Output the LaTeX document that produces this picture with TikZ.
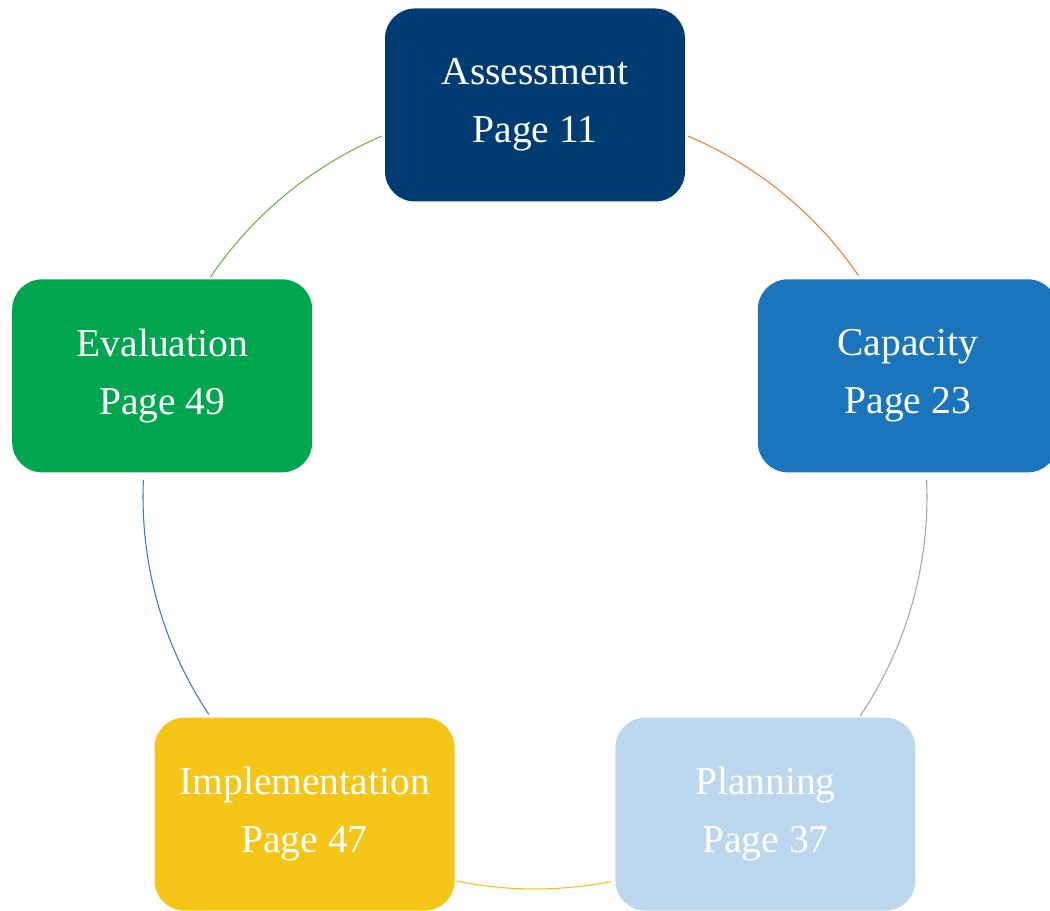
\documentclass[tikz,border=0pt]{standalone}
\usepackage{fontspec}
\setmainfont{Liberation Serif}
\usepackage{tikz}
\usetikzlibrary{calc}

\definecolor{navy}{HTML}{003C71}
\definecolor{midblue}{HTML}{1B75BC}
\definecolor{paleblue}{HTML}{BDD7EE}
\definecolor{gold}{HTML}{F5C518}
\definecolor{leaf}{HTML}{00A54F}
\definecolor{arcorange}{HTML}{ED7D31}
\definecolor{arcgray}{HTML}{A5A5A5}
\definecolor{arcgold}{HTML}{FFC000}
\definecolor{arcblue}{HTML}{4472C4}
\definecolor{arcgreen}{HTML}{70AD47}

\tikzset{
  stage/.style={rounded corners=0.6cm, minimum width=6cm, minimum height=3.86cm,
    text=white, align=center, inner sep=0pt,
    font=\fontsize{22.5}{33}\selectfont},
  link/.style={line width=0.6pt}
}

\begin{document}
\begin{tikzpicture}
    \useasboundingbox (0, 0) rectangle (21, 18.22);
    \coordinate (c) at (10.7, 8.28);

    \node[stage, fill=navy] (assess) at ($(c)+(90:7.84)$) {Assessment\\Page 11};
    \node[stage, fill=midblue] (capac) at ($(c)+(18:7.84)$) {Capacity\\Page 23};
    \node[stage, fill=paleblue] (plan) at ($(c)+(-54:7.84)$) {Planning\\Page 37};
    \node[stage, fill=gold] (impl) at ($(c)+(-126:7.84)$) {Implementation\\Page 47};
    \node[stage, fill=leaf] (evalu) at ($(c)+(162:7.84)$) {Evaluation\\Page 49};

    % arcs of the cycle
    \draw[link, arcorange] ($(c)+(67:7.84)$) arc[start angle=67, end angle=34.4, radius=7.84];
    \draw[link, arcgray] ($(c)+(2.5:7.84)$) arc[start angle=2.5, end angle=-34, radius=7.84];
    \draw[link, arcgold] ($(c)+(-78.8:7.84)$) arc[start angle=-78.8, end angle=-101.5, radius=7.84];
    \draw[link, arcblue] ($(c)+(213.7:7.84)$) arc[start angle=213.7, end angle=177.5, radius=7.84];
    \draw[link, arcgreen] ($(c)+(145.9:7.84)$) arc[start angle=145.9, end angle=113, radius=7.84];
  \end{tikzpicture}
\end{document}
